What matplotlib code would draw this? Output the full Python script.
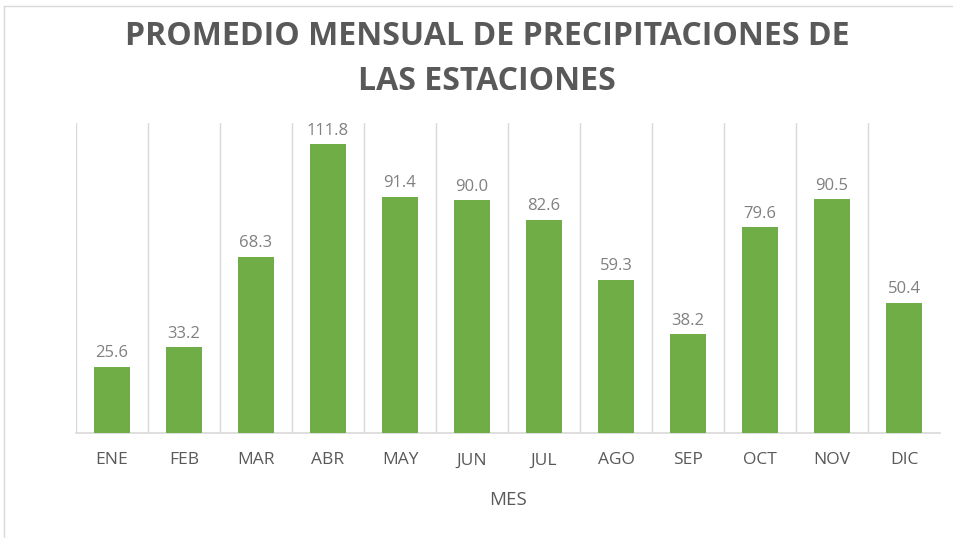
import matplotlib.pyplot as plt
from matplotlib.lines import Line2D

meses = ['ENE', 'FEB', 'MAR', 'ABR', 'MAY', 'JUN', 'JUL', 'AGO', 'SEP', 'OCT', 'NOV', 'DIC']
precipitacion = [25.6, 33.2, 68.3, 111.8, 91.4, 90.0, 82.6, 59.3, 38.2, 79.6, 90.5, 50.4]

plt.rcParams['font.family'] = ['Open Sans', 'DejaVu Sans']

fig = plt.figure(figsize=(9.54, 5.38), dpi=100)
ax = fig.add_axes([0.0797, 0.1952, 0.9057, 0.5762])

x = list(range(len(meses)))
ax.bar(x, precipitacion, width=0.49, color='#70AD47', zorder=3)

for xi, v in zip(x, precipitacion):
    ax.annotate('{:.1f}'.format(v), (xi, v), xytext=(0, 4), textcoords='offset points',
                ha='center', va='bottom', fontsize=12, color='#808080')

for i in range(len(meses)):
    ax.axvline(i - 0.5, color='#d9d9d9', linewidth=1, zorder=1)

ax.set_xlim(-0.5, len(meses) - 0.5)
ax.set_ylim(0, 120)
ax.set_yticks([])
ax.set_xticks(x)
ax.set_xticklabels(meses, fontsize=12.5, color='#595959')
ax.tick_params(axis='x', length=0, pad=14)
for s in ['top', 'right', 'left']:
    ax.spines[s].set_visible(False)
ax.spines['bottom'].set_color('#d9d9d9')
ax.spines['bottom'].set_linewidth(1.2)
ax.set_xlabel('MES', fontsize=13.5, color='#595959', labelpad=16)

fig.text(0.5105, 0.962, 'PROMEDIO MENSUAL DE PRECIPITACIONES DE\nLAS ESTACIONES',
         ha='center', va='top', fontsize=23, fontweight='bold', color='#595959',
         linespacing=1.45)

# chart frame: only the top and left edges show in the image
fig.lines.append(Line2D([4.5 / 954, 1], [1 - 5.5 / 538] * 2, transform=fig.transFigure,
                        color='#d9d9d9', linewidth=1))
fig.lines.append(Line2D([4.5 / 954] * 2, [0, 1 - 5.5 / 538], transform=fig.transFigure,
                        color='#d9d9d9', linewidth=1))

fig.savefig('out.png', dpi=100)
